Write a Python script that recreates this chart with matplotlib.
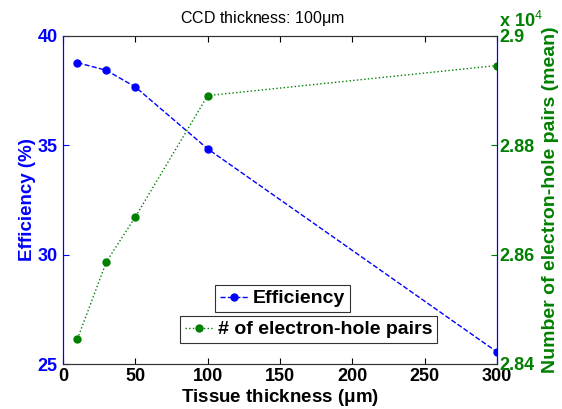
import matplotlib.pyplot as plt
from matplotlib.ticker import FixedLocator

plt.rcParams['font.family'] = ['Liberation Sans', 'DejaVu Sans']
plt.rcParams['mathtext.fontset'] = 'custom'
plt.rcParams['mathtext.rm'] = 'Liberation Sans'
plt.rcParams['mathtext.bf'] = 'Liberation Sans:bold'

# donnees
epaisseur = [10, 30, 50, 100, 300]
efficacite = [38.78, 38.43, 37.67, 34.84, 25.55]
paires = [2.8446, 2.8587, 2.8669, 2.8891, 2.8946]  # x 10^4

bleu = '#0000ff'
vert = '#008000'

fig = plt.figure(figsize=(5.62, 4.09), dpi=100)
ax1 = fig.add_axes([63/562, 1-364/409, (497-63)/562, (364-36)/409])
ax2 = ax1.twinx()

l1, = ax1.plot(epaisseur, efficacite, '--o', color=bleu, lw=1, ms=5, label='Efficiency')
l2, = ax2.plot(epaisseur, paires, ':o', color=vert, lw=1, ms=5, label='# of electron-hole pairs')

ax1.set_xlim(0, 300)
ax1.set_ylim(25, 40)
ax2.set_ylim(2.84, 2.9)
ax1.set_xticks([0, 50, 100, 150, 200, 250, 300])
ax1.set_yticks([25, 30, 35, 40])
ax2.yaxis.set_major_locator(FixedLocator([2.84, 2.86, 2.88, 2.9]))
ax2.set_yticklabels(['2.84', '2.86', '2.88', '2.9'])

for ax in (ax1, ax2):
    ax.tick_params(direction='in', length=4, labelsize=13)
    for lab in ax.get_xticklabels() + ax.get_yticklabels():
        lab.set_fontweight('bold')
ax1.tick_params(axis='y', colors=bleu, pad=4)
ax2.tick_params(axis='y', colors=vert, pad=2)
ax1.tick_params(axis='x', top=True, pad=3)

for ax in (ax1, ax2):
    ax.spines['left'].set_color(bleu)
    ax.spines['right'].set_color(bleu)
    ax.spines['top'].set_color('#333333')
    ax.spines['bottom'].set_color('#333333')

ax1.set_xlabel('Tissue thickness ($\\mathbf{\\mu}$m)', fontsize=13.5, fontweight='bold', labelpad=1)
ax1.set_ylabel('Efficiency (%)', fontsize=13.5, fontweight='bold', color=bleu, labelpad=1)
ax2.set_ylabel('Number of electron-hole pairs (mean)', fontsize=14, fontweight='bold', color=vert, labelpad=5)
fig.text(262/562, 1-18/409, 'CCD thickness: 100$\\mathrm{\\mu}$m', fontsize=11.5,
         ha='center', va='center')

fig.text(499/562, 1-21/409, 'x 10$^{4}$', color=vert, fontsize=13, fontweight='bold',
         ha='left', va='center')

opts = dict(loc='upper left', prop={'weight': 'bold', 'size': 14}, fancybox=False,
            edgecolor='#333333', handlelength=1.5, borderpad=0.25, handletextpad=0.2,
            borderaxespad=0, framealpha=1)
leg1 = fig.legend(handles=[l1], bbox_to_anchor=(215/562, 1-285/409), **opts)
leg2 = fig.legend(handles=[l2], bbox_to_anchor=(180/562, 1-316/409), **opts)
for leg in (leg1, leg2):
    leg.get_frame().set_linewidth(0.8)

fig.savefig('out.png', dpi=100)
